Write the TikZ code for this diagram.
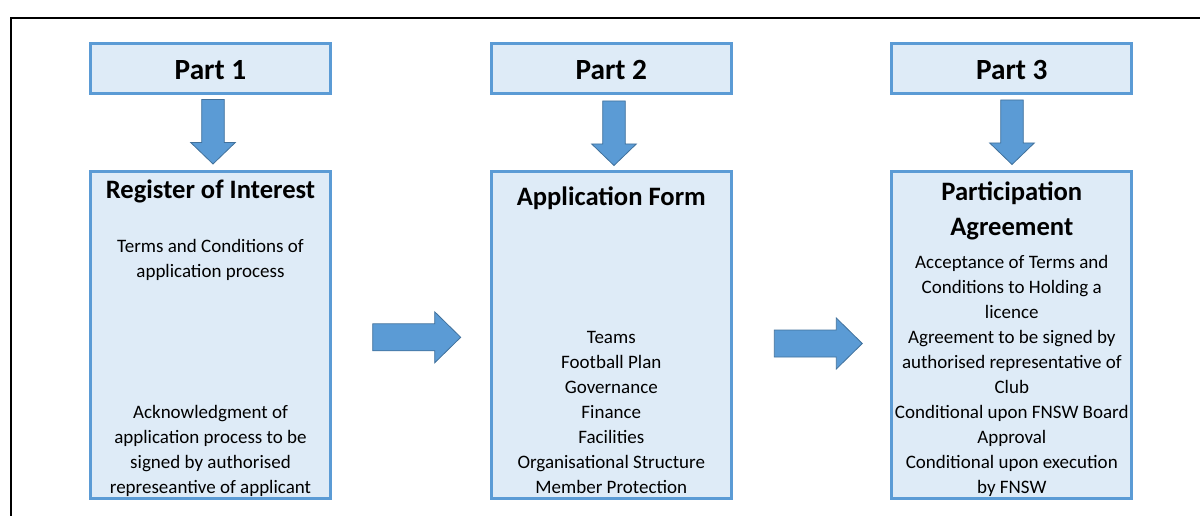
\documentclass[tikz,border=0pt]{standalone}
\usepackage{fontspec}
\setmainfont{Carlito}
\usetikzlibrary{calc}
\definecolor{boxfill}{HTML}{DEEBF7}
\definecolor{boxline}{HTML}{5B9BD5}
\definecolor{arrfill}{HTML}{5B9BD5}
\definecolor{arrline}{HTML}{41719C}
\begin{document}
\begin{tikzpicture}[x=1pt,y=-1pt,
  box/.style={draw=boxline, fill=boxfill, line width=3pt, inner sep=0pt, minimum width=240pt},
  blockarrow/.style={fill=arrfill, draw=arrline, line width=0.8pt, line join=miter},
  parttext/.style={font=\fontsize{29.3}{34}\selectfont\bfseries, anchor=base, inner sep=0pt},
  headtext/.style={font=\fontsize{26.6}{35}\selectfont\bfseries, anchor=base, align=center, inner sep=0pt},
  bodytext/.style={font=\fontsize{19}{25}\selectfont, anchor=base, align=center, inner sep=0pt}]
\useasboundingbox (0,0) rectangle (1200,516);
% frame
\draw[line width=2pt] (11,520) -- (11,17.7) -- (1204,17.7);
% header boxes
\node[box, minimum height=50.5pt] (p1) at (210.5,68.75) {};
\node[box, minimum height=50.5pt] (p2) at (611.3,68.75) {};
\node[box, minimum height=50.5pt] (p3) at (1011.8,68.75) {};
% lower boxes
\node[box, minimum height=327pt] (b1) at (210.5,335) {};
\node[box, minimum height=327pt] (b2) at (611.3,335) {};
\node[box, minimum height=327pt] (b3) at (1011.8,335) {};
% header texts (base = baseline of last line)
\node[parttext] (t1) at (210.5,80) {Part 1};
\node[parttext] (t2) at (611.3,80) {Part 2};
\node[parttext] (t3) at (1011.8,80) {Part 3};
% box headings
\node[headtext] (h1) at (210.5,199) {Register of Interest};
\node[headtext] (h2) at (611.3,205) {Application Form};
\node[headtext] (h3) at (1011.8,235) {Participation\\Agreement};
% body texts
\node[bodytext] (s1a) at (210.5,277) {Terms and Conditions of\\application process};
\node[bodytext] (s1b) at (210.5,493) {Acknowledgment of\\application process to be\\signed by authorised\\represeantive of applicant};
\node[bodytext] (s2) at (611.3,493) {Teams\\Football Plan\\Governance\\Finance\\Facilities\\Organisational Structure\\Member Protection};
\node[bodytext] (s3) at (1011.8,493) {Acceptance of Terms and\\Conditions to Holding a\\licence\\Agreement to be signed by\\authorised representative of\\Club\\Conditional upon FNSW Board\\Approval\\Conditional upon execution\\by FNSW};
% down arrows
\coordinate (d1) at (213,99.5);
\coordinate (d2) at (614,101);
\coordinate (d3) at (1012,100);
\foreach \c in {d1,d2,d3}{
  \draw[blockarrow] (\c) ++(-11.3,0) -- ++(22.6,0) -- ++(0,43) -- ++(11,0) -- ++(-22.3,21.5) -- ++(-22.3,-21.5) -- ++(11,0) -- cycle;
}
% right arrows
\coordinate (r1) at (372.7,337.3);
\coordinate (r2) at (774.3,343.5);
\foreach \c in {r1,r2}{
  \draw[blockarrow] (\c) ++(0,-13.5) -- ++(62,0) -- ++(0,-12) -- ++(26,25.5) -- ++(-26,25.5) -- ++(0,-12) -- ++(-62,0) -- cycle;
}
\end{tikzpicture}
\end{document}
